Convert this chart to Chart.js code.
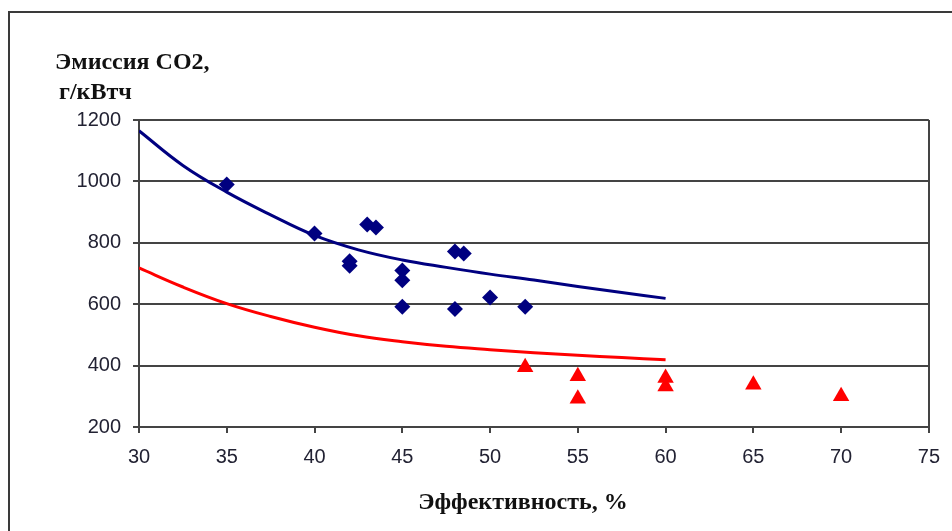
<!DOCTYPE html>
<html>
<head>
<meta charset="utf-8">
<script src="https://cdn.jsdelivr.net/npm/chart.js@4.4.1/dist/chart.umd.min.js"></script>
<style>
  html, body { margin: 0; padding: 0; background: #fff; }
  #wrap { position: relative; width: 952px; height: 531px; overflow: hidden; }
  #wrap canvas { position: absolute; left: 0; top: 0; }
  #frame { position: absolute; left: 8px; top: 11px; width: 1000px; height: 600px;
           border-left: 2px solid #3a3a3a; border-top: 2px solid #3a3a3a; pointer-events: none; }
</style>
</head>
<body>
<div id="wrap">
  <canvas id="chart" width="952" height="531"></canvas>
  <div id="frame"></div>
</div>
<script>
// Measured plants: efficiency (%) and CO2 emission (g/kWh)
const coalEfficiency = [35, 40, 42, 42, 43, 43.5, 45, 45, 45, 48, 48.5, 48, 50, 52];
const coalEmission   = [990, 830, 740, 725, 860, 850, 710, 678, 592, 772, 765, 584, 622, 592];

const gasEfficiency = [52, 55, 55, 60, 60, 65, 70];
const gasEmission   = [395, 365, 292, 360, 332, 338, 300];

// Trend curves
const trendEfficiency = [30, 32.5, 35, 37.5, 40, 42.5, 45, 47.5, 50, 52.5, 55, 57.5, 60];
const coalTrend = [1165, 1052, 965, 891, 824, 777, 744, 720, 698, 679, 658, 638, 619];
const gasTrend  = [718, 656, 602, 560, 525, 497, 478, 463, 452, 442, 434, 426, 419];

// Axis ranges and titles
const xRange = [30, 75, 5];
const yRange = [200, 1200, 200];
const yTitleLines = ['Эмиссия CO2,', 'г/кВтч'];
const xTitle = 'Эффективность, %';

const NAVY = '#000080';
const RED = '#ff0000';
const GRID = '#444444';
const TICK_TEXT = '#222233';

const toPoints = (xs, ys) => xs.map((x, i) => ({ x, y: ys[i] }));

const axisTitles = {
  id: 'axisTitles',
  afterDraw(chart) {
    const { ctx, chartArea } = chart;
    ctx.save();
    ctx.fillStyle = '#111';
    ctx.font = 'bold 24px "Liberation Serif", "Times New Roman", serif';
    ctx.textBaseline = 'alphabetic';
    ctx.textAlign = 'left';
    ctx.fillText(yTitleLines[0], chartArea.left - 84, 69);
    ctx.fillText(yTitleLines[1], chartArea.left - 80, 99);
    ctx.textAlign = 'center';
    ctx.fillText(xTitle, (chartArea.left + chartArea.right) / 2 - 11, 509);
    ctx.restore();
  }
};

new Chart(document.getElementById('chart'), {
  type: 'scatter',
  data: {
    datasets: [
      {
        label: 'coal',
        data: toPoints(coalEfficiency, coalEmission),
        pointStyle: 'rectRot',
        pointRadius: 8,
        backgroundColor: NAVY,
        borderColor: NAVY,
        borderWidth: 0
      },
      {
        label: 'gas',
        data: toPoints(gasEfficiency, gasEmission),
        pointStyle: 'triangle',
        pointRadius: 9.5,
        backgroundColor: RED,
        borderColor: RED,
        borderWidth: 0
      },
      {
        label: 'coal trend',
        data: toPoints(trendEfficiency, coalTrend),
        showLine: true,
        pointRadius: 0,
        borderColor: NAVY,
        borderWidth: 3,
        tension: 0.4,
        fill: false
      },
      {
        label: 'gas trend',
        data: toPoints(trendEfficiency, gasTrend),
        showLine: true,
        pointRadius: 0,
        borderColor: RED,
        borderWidth: 3,
        tension: 0.4,
        fill: false
      }
    ]
  },
  options: {
    responsive: false,
    devicePixelRatio: 1,
    animation: false,
    events: [],
    layout: { padding: { left: 0, top: 120, right: 16, bottom: 0 } },
    plugins: {
      legend: { display: false },
      tooltip: { enabled: false },
      title: { display: false }
    },
    scales: {
      x: {
        type: 'linear',
        min: xRange[0],
        max: xRange[1],
        afterFit(scale) { scale.height = 104; },
        ticks: {
          stepSize: xRange[2],
          callback: (v) => String(v),
          color: TICK_TEXT,
          font: { family: '"Liberation Sans", Arial, sans-serif', size: 20 },
          padding: 12,
          maxRotation: 0
        },
        grid: {
          color: (c) => (c.tick && c.tick.value === xRange[1] ? GRID : 'rgba(0,0,0,0)'),
          tickColor: GRID,
          tickLength: 6,
          lineWidth: 2
        },
        border: { display: true, color: GRID, width: 2 }
      },
      y: {
        type: 'linear',
        min: yRange[0],
        max: yRange[1],
        afterFit(scale) { scale.width = 139; },
        ticks: {
          stepSize: yRange[2],
          callback: (v) => String(v),
          color: TICK_TEXT,
          font: { family: '"Liberation Sans", Arial, sans-serif', size: 20 },
          padding: 12
        },
        grid: {
          color: GRID,
          tickColor: GRID,
          tickLength: 6,
          lineWidth: 2
        },
        border: { display: true, color: GRID, width: 2 }
      }
    }
  },
  plugins: [axisTitles]
});
</script>
</body>
</html>
